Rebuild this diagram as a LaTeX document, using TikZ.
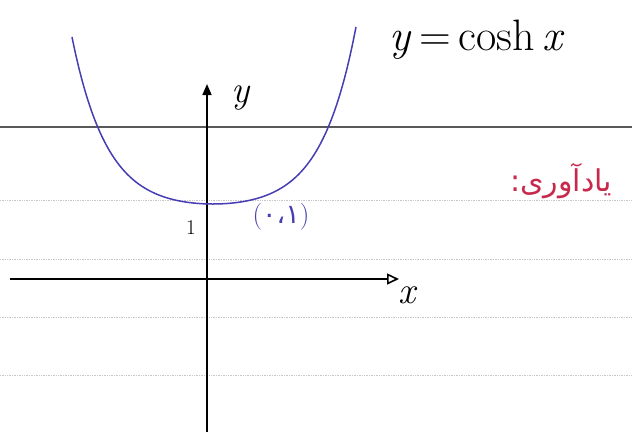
\documentclass[tikz,border=0pt]{standalone}
\usepackage{fontspec}
\newfontfamily\arabicfont[Script=Arabic]{DejaVu Sans}
\TeXXeTstate=1
\usetikzlibrary{arrows.meta,positioning}

\definecolor{inkblue}{RGB}{70,62,178}
\definecolor{inkred}{RGB}{200,40,75}

\begin{document}
\begin{tikzpicture}[
  x=1pt, y=-1pt,
  rule/.style={draw=black!65, line width=1.1pt},
  faint/.style={draw=black!22, densely dotted, line width=0.7pt},
  axis/.style={draw=black, line width=1.6pt},
  curve/.style={draw=inkblue, line width=1.5pt},
  lbl/.style={inner sep=0pt, font=\fontsize{38}{42}\selectfont\itshape},
  bluelbl/.style={inner sep=0pt, text=inkblue, font=\fontsize{27}{30}\selectfont},
  note/.style={inner sep=0pt, text=inkred, font=\arabicfont\fontsize{30}{36}\selectfont}
]
\useasboundingbox (0,0) rectangle (632,432);

% ruled paper
\draw[rule] (0,127) -- (632,127);
\foreach \yy in {200,259,317,375} {
  \draw[faint] (0,\yy) -- (632,\yy);
}

% axes
\coordinate (ybot) at (207,432);
\coordinate (ytip) at (207,84);
\coordinate (xleft) at (10,279);
\coordinate (xtip) at (399,279);
\draw[axis, -{Triangle[length=11pt,width=9pt]}] (ybot) -- (ytip);
\draw[axis, -{Triangle[open,length=12pt,width=11pt]}] (xleft) -- (xtip);

% y = cosh x
\draw[curve] plot[domain=-141:143, samples=90, smooth]
  ({213+\x},{204-6.16*(cosh(\x/35)-1)});

% labels
\node[lbl] (ylab) at (241,98) {y};
\node[lbl] (xlab) at (407,295) {x};
\node[inner sep=0pt, font=\fontsize{21}{24}\selectfont] (one) at (191,228) {1};
\node[bluelbl] (pt) at (281,217)
  {(\hbox{\arabicfont ۰}\hbox{\arabicfont ،}\hbox{\arabicfont ۱})};
\node[inner sep=0pt, font=\fontsize{44}{48}\selectfont] (eq) at (477,40)
  {\textit{y}\,=\,cosh\,\textit{x}};
\node[note] (memo) at (561,181) {\beginR یادآوری:\endR};

\end{tikzpicture}
\end{document}
